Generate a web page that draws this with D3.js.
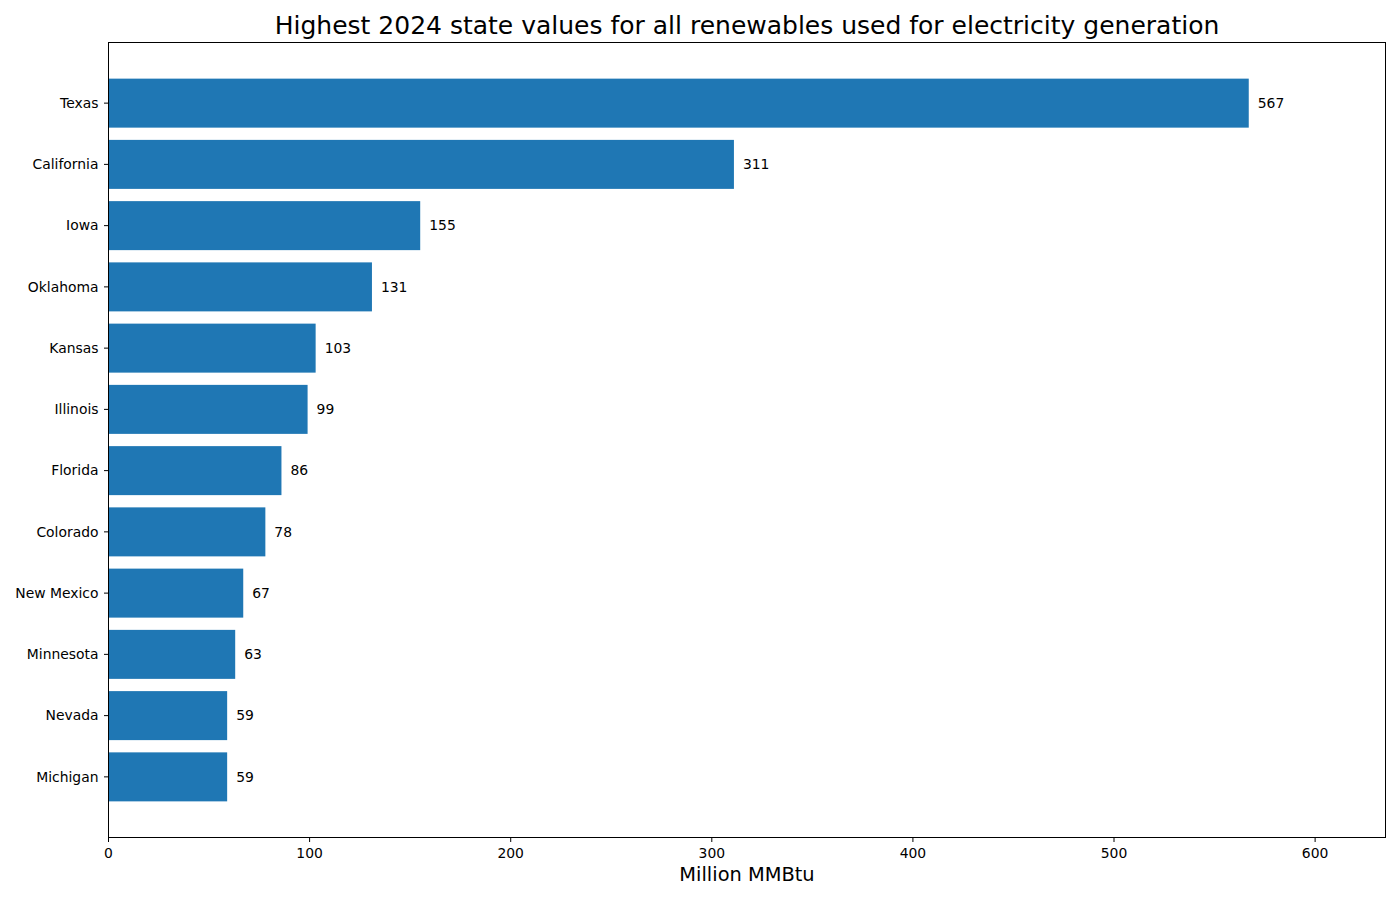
<!DOCTYPE html>
<html><head><meta charset="utf-8">
<script src="https://cdn.jsdelivr.net/npm/d3@7"></script>
<style>body{margin:0;background:#fff;} text{font-family:"DejaVu Sans",sans-serif;}</style>
</head><body><svg id="c" width="1400" height="900"></svg>
<script>
const states = ["Texas","California","Iowa","Oklahoma","Kansas","Illinois","Florida","Colorado","New Mexico","Minnesota","Nevada","Michigan"];
const values = [567,311,155,131,103,99,86,78,67,63,59,59];
const xTicks = [0,100,200,300,400,500,600];
const title = "Highest 2024 state values for all renewables used for electricity generation";
const xLabel = "Million MMBtu";

const L=108.5, R=1385.5, T=42.5, B=837.5;
const svg = d3.select("#c");
const x = d3.scaleLinear().domain([0,635]).range([L,R]);
const y = d3.scaleLinear().domain([-0.99, states.length-1+0.99]).range([T,B]);
const bh = 0.8*(y(1)-y(0));

svg.selectAll("rect.bar").data(values).join("rect").attr("class","bar")
  .attr("x",x(0)).attr("y",(d,i)=>y(i)-bh/2).attr("width",d=>x(d)-x(0)).attr("height",bh)
  .attr("fill","#1f77b4");

svg.selectAll("text.val").data(values).join("text").attr("class","val")
  .attr("x",d=>x(d)+9).attr("y",(d,i)=>y(i)).attr("dy","0.35em")
  .attr("font-size","13.9px").attr("fill","#000").text(d=>d);

// frame
svg.append("rect").attr("x",L).attr("y",T).attr("width",R-L).attr("height",B-T)
  .attr("fill","none").attr("stroke","#000").attr("stroke-width",1);

// x axis
const xg = svg.append("g");
xTicks.forEach(t=>{
  xg.append("line").attr("x1",x(t)).attr("x2",x(t)).attr("y1",B).attr("y2",B+4.5).attr("stroke","#000");
  xg.append("text").attr("x",x(t)).attr("y",B+20).attr("text-anchor","middle").attr("font-size","13.9px").text(t);
});
// y axis
states.forEach((s,i)=>{
  svg.append("line").attr("x1",L-4.5).attr("x2",L).attr("y1",y(i)).attr("y2",y(i)).attr("stroke","#000");
  svg.append("text").attr("x",L-10).attr("y",y(i)).attr("dy","0.35em").attr("text-anchor","end").attr("font-size","13.9px").text(s);
});

svg.append("text").attr("x",(L+R)/2).attr("y",34).attr("text-anchor","middle").attr("font-size","25px").text(title);
svg.append("text").attr("x",(L+R)/2).attr("y",881).attr("text-anchor","middle").attr("font-size","19.4px").text(xLabel);
</script></body></html>
